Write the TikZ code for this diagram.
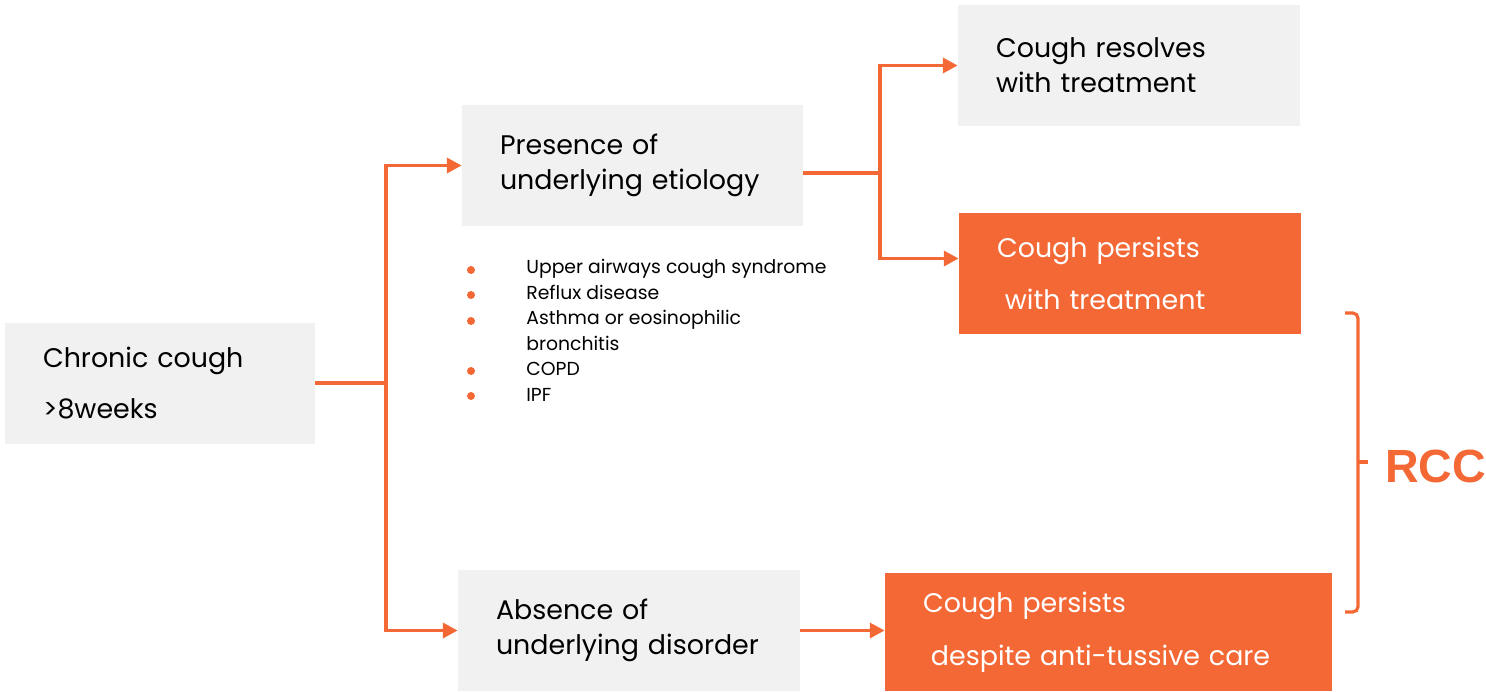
\documentclass[tikz,border=0pt]{standalone}
\usepackage{fontspec}
\setmainfont{Poppins}
\newfontfamily\rccfont{Liberation Sans}
\usepackage{xcolor}
\definecolor{paleGray}{RGB}{241,241,241}
\definecolor{coral}{RGB}{243,104,53}
\usetikzlibrary{positioning, arrows.meta}
\hyphenpenalty=10000
\exhyphenpenalty=10000
\tikzset{
  greybox/.style = {
    fill=paleGray,
    minimum height=2.42cm,
    inner xsep=0.76cm,
    align=left,
    font=\fontsize{15.3}{20}\selectfont,
    text=black
  },
  hotbox/.style = {
    greybox,
    fill=coral,
    text=white
  },
  link/.style = {
    line width=2.2pt,
    draw=coral
  },
  arrow/.style = {
    link,
    -{Triangle[length=8.5pt, width=8.5pt]}
  },
  cause/.style = {
    font=\fontsize{10.7}{14.5}\selectfont,
    align=left,
    inner sep=0pt
  },
}

\begin{document}
\begin{tikzpicture}[x=0.02cm, y=-0.02cm]
    \useasboundingbox (0,0) rectangle (1486,692);
    \node[greybox, text width=4.68cm] (chr)  at (160,383.5)  {Chronic cough\\[9pt]>8weeks};
    \node[greybox, text width=5.3cm]  (pres) at (632.5,165.5) {Presence of\\underlying etiology};
    \node[greybox, text width=5.32cm] (abs)  at (629,630.5)  {Absence of\\underlying disorder};
    \node[greybox, text width=5.32cm] (res)  at (1129,65.5)  {Cough resolves\\with treatment};
    \node[hotbox, text width=5.32cm]  (per)  at (1130,273.5) {Cough persists\\[10pt]\hspace*{4.5pt}with treatment};
    \node[hotbox, text width=7.42cm, minimum height=2.36cm] (pers) at (1108.5,632) {Cough persists\\[10pt]\hspace*{4.5pt}despite anti-tussive care};
    \node[cause, anchor=north west] (causes) at (526,259)
      {Upper airways cough syndrome\\Reflux disease\\Asthma or eosinophilic\\bronchitis\\COPD\\IPF};
    \foreach \y in {270,295,321,371,396}
      \fill[coral] (471,\y) circle (0.08cm);
    \coordinate (forkA) at (386,383);
    \coordinate (forkB) at (880,173);
    \draw[link] (chr.east |- forkA) -- (forkA);
    \draw[arrow] (forkA) |- (pres.west);
    \draw[arrow] (forkA) |- (abs.west);
    \draw[link] (forkB -| pres.east) -- (forkB);
    \draw[arrow] (forkB) |- (res.west);
    \draw[arrow] (forkB) |- ([yshift=0.3cm]per.west);
    \draw[arrow] (abs.east) -- (abs.east -| pers.west);
    \draw[link, line width=1.8pt, rounded corners=3pt] (1345,313) -- (1358,313) -- (1358,612) -- (1345,612);
    \draw[link, line width=1.8pt] (1358,462) -- (1368,462);
    \node[font=\rccfont\bfseries\fontsize{26.5}{30}\selectfont, text=coral, anchor=west, inner sep=0pt] (rcc) at (1385,466) {RCC};
  \end{tikzpicture}
\end{document}
